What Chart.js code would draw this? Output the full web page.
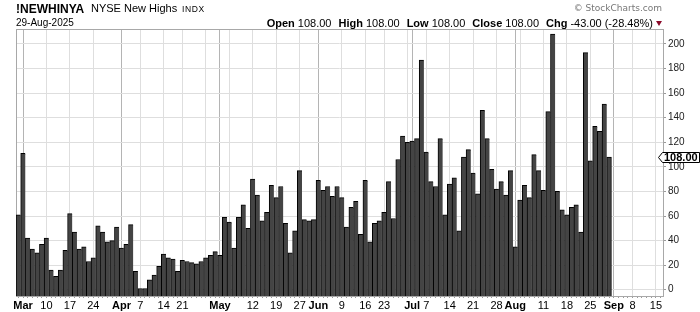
<!DOCTYPE html>
<html>
<head>
<meta charset="utf-8">
<script src="https://cdn.jsdelivr.net/npm/chart.js@4.4.1/dist/chart.umd.min.js"></script>
<style>
  body { margin: 0; background: #fff; }
  #wrap { position: relative; width: 700px; height: 312px; font-family: "Liberation Sans", Arial, sans-serif; color: #000; }
  #wrap canvas { position: absolute; left: 0; top: 0; }
  .t { position: absolute; line-height: 1; white-space: nowrap; }
  .b { font-weight: bold; }
  .gap { margin-left: 7px; }
  .tri { display: inline-block; width: 0; height: 0; border-left: 3.5px solid transparent; border-right: 3.5px solid transparent; border-top: 5px solid #8b0a2a; margin-left: 3px; vertical-align: 1px; }
</style>
</head>
<body>
<div id="wrap">
  <canvas id="myChart" width="700" height="312"></canvas>
  <div class="t b" style="left:16px; top:2.5px; font-size:12px;">!NEWHINYA</div>
  <div class="t" style="left:91px; top:3.4px; font-size:11px;">NYSE New Highs</div>
  <div class="t" style="left:182px; top:5px; font-size:8.5px; letter-spacing:0.6px;">INDX</div>
  <div class="t" style="left:16px; top:18px; font-size:10px;">29-Aug-2025</div>
  <div class="t" style="right:38px; top:4px; font-size:9px; color:#777; font-family:'DejaVu Sans', sans-serif;">&copy; StockCharts.com</div>
  <div class="t" style="right:38px; top:17.5px; font-size:11px;">
    <span class="b">Open</span> 108.00<span class="gap b">High</span> 108.00<span class="gap b">Low</span> 108.00<span class="gap b">Close</span> 108.00<span class="gap b">Chg</span> -43.00 (-28.48%)<span class="tri"></span>
  </div>
</div>
<script>
// daily NYSE new highs, 28-Feb-2025 .. 29-Aug-2025
const newHighs = [
  61,
  111, 42, 33, 30, 37,  42, 16, 11, 16, 32,  62, 47, 33, 35, 23,  26, 52, 47, 39, 40,  51,
  34, 37, 53, 15,  1, 1, 8, 12, 19,  29, 26, 25, 15,  24, 23, 22, 21, 23,  26, 28, 31,
  28, 59,  55, 34, 59, 69, 50,  90, 77, 56, 63, 85,  75, 84, 54, 30, 48,  97, 57, 56, 57,
  89, 81, 84, 76, 84,  75, 51, 67, 72, 45,  89, 39, 54, 56,  63, 88, 58, 106, 125,  120,
  121, 123, 187,  112, 88, 84, 123, 61,  86, 91, 48, 108, 114,  95, 78, 146, 123, 98,  82, 88, 77, 97,
  35,  73, 85, 75, 110, 97,  81, 145, 208, 80, 65,  61, 67, 69, 47, 193,  105, 133, 129, 151, 108
];
const lastClose = 108;

const firstDay = '2025-02-28';
const numSlots = 138; // trading days shown, incl. empty space into September
const holidays = ['2025-04-18', '2025-05-26', '2025-06-19', '2025-07-04', '2025-09-01'];

const monthTicks = ['2025-03-03', '2025-04-01', '2025-05-01', '2025-06-02', '2025-07-01', '2025-08-01', '2025-09-02'];
const monthLabels = ['Mar', 'Apr', 'May', 'Jun', 'Jul', 'Aug', 'Sep'];
const weekTicks = ['2025-03-10', '2025-03-17', '2025-03-24', '2025-04-07', '2025-04-14', '2025-04-21', '2025-04-28',
  '2025-05-05', '2025-05-12', '2025-05-19', '2025-05-27', '2025-06-09', '2025-06-16', '2025-06-23', '2025-06-30',
  '2025-07-07', '2025-07-14', '2025-07-21', '2025-07-28', '2025-08-04', '2025-08-11', '2025-08-18', '2025-08-25',
  '2025-09-08', '2025-09-15'];
const weekLabels = ['10', '17', '24', '7', '14', '21', '', '', '12', '19', '27', '9', '16', '23', '',
  '7', '14', '21', '28', '', '11', '18', '25', '8', '15'];

const yMin = -5.1, yMax = 212.2;

// trading calendar (weekdays minus exchange holidays)
function tradingDays(start, n) {
  const out = [];
  const d = new Date(start + 'T00:00:00Z');
  while (out.length < n) {
    const s = d.toISOString().slice(0, 10);
    const wd = d.getUTCDay();
    if (wd != 0 && wd != 6 && holidays.indexOf(s) < 0) out.push(s);
    d.setUTCDate(d.getUTCDate() + 1);
  }
  return out;
}
const days = tradingDays(firstDay, numSlots);

function tickKind(i) {
  if (monthTicks.indexOf(days[i]) >= 0) return 'month';
  if (weekTicks.indexOf(days[i]) >= 0) return 'week';
  return '';
}
function tickText(i) {
  let k = monthTicks.indexOf(days[i]);
  if (k >= 0) return monthLabels[k];
  k = weekTicks.indexOf(days[i]);
  if (k >= 0) return weekLabels[k];
  return '';
}

const frame = {
  id: 'frame',
  beforeDatasetsDraw(chart) {
    const a = chart.chartArea, c = chart.ctx;
    c.save();
    c.strokeStyle = '#a8a8a8';
    c.lineWidth = 1;
    c.strokeRect(Math.round(a.left) + 0.5, Math.round(a.top) + 0.5, Math.round(a.right - a.left), Math.round(a.bottom - a.top));
    c.restore();
  }
};

const priceTag = {
  id: 'priceTag',
  afterDraw(chart) {
    const c = chart.ctx;
    const y = Math.round(chart.scales.y.getPixelForValue(lastClose)) + 0.5;
    const x0 = 658.5, x1 = 662.5, x2 = 699.5;
    c.save();
    c.beginPath();
    c.moveTo(x0, y);
    c.lineTo(x1, y - 5);
    c.lineTo(x2, y - 5);
    c.lineTo(x2, y + 5);
    c.lineTo(x1, y + 5);
    c.closePath();
    c.fillStyle = '#fff';
    c.fill();
    c.strokeStyle = '#000';
    c.lineWidth = 1;
    c.stroke();
    c.fillStyle = '#000';
    c.font = 'bold 11px "Liberation Sans", Arial, sans-serif';
    c.textBaseline = 'middle';
    c.fillText(lastClose.toFixed(2), 664, y + 0.5);
    c.restore();
  }
};

const data = {
  labels: days,
  datasets: [{
    data: newHighs,
    backgroundColor: '#444444',
    borderColor: '#000000',
    borderWidth: (ctx) => ({ top: 1, left: 1, bottom: 0, right: ctx.dataIndex == newHighs.length - 1 ? 1 : 0 }),
    borderSkipped: false,
    barPercentage: 1,
    categoryPercentage: 1,
    base: yMin
  }]
};

const config = {
  type: 'bar',
  data: data,
  options: {
    responsive: false,
    animation: false,
    layout: { padding: { left: 16, top: 29, right: 0, bottom: 0 } },
    plugins: { legend: { display: false }, tooltip: { enabled: false } },
    scales: {
      x: {
        offset: true,
        border: { display: false },
        grid: {
          offset: false,
          color: (ctx) => {
            const k = tickKind(ctx.index);
            return k == 'month' ? '#b4b4b4' : (k == 'week' ? '#dedede' : 'rgba(0,0,0,0)');
          },
          tickLength: 2,
          tickColor: '#9a9a9a'
        },
        ticks: {
          autoSkip: false,
          maxRotation: 0,
          minRotation: 0,
          padding: 1,
          color: '#000',
          font: (ctx) => ({ family: '"Liberation Sans", Arial, sans-serif', size: 11, weight: tickKind(ctx.index) == 'month' ? 'bold' : 'normal' }),
          callback: (v, i) => tickText(i)
        },
        afterFit: (s) => { s.height = 16; }
      },
      y: {
        position: 'right',
        min: yMin,
        max: yMax,
        border: { display: false },
        grid: { color: '#dedede', tickLength: 3, tickColor: '#9a9a9a' },
        ticks: {
          stepSize: 20,
          includeBounds: false,
          padding: 2,
          color: '#222',
          font: { family: '"Liberation Sans", Arial, sans-serif', size: 10 }
        },
        afterFit: (s) => { s.width = 37; }
      }
    }
  },
  plugins: [frame, priceTag]
};

const myChart = new Chart(document.getElementById('myChart'), config);
</script>
</body>
</html>
